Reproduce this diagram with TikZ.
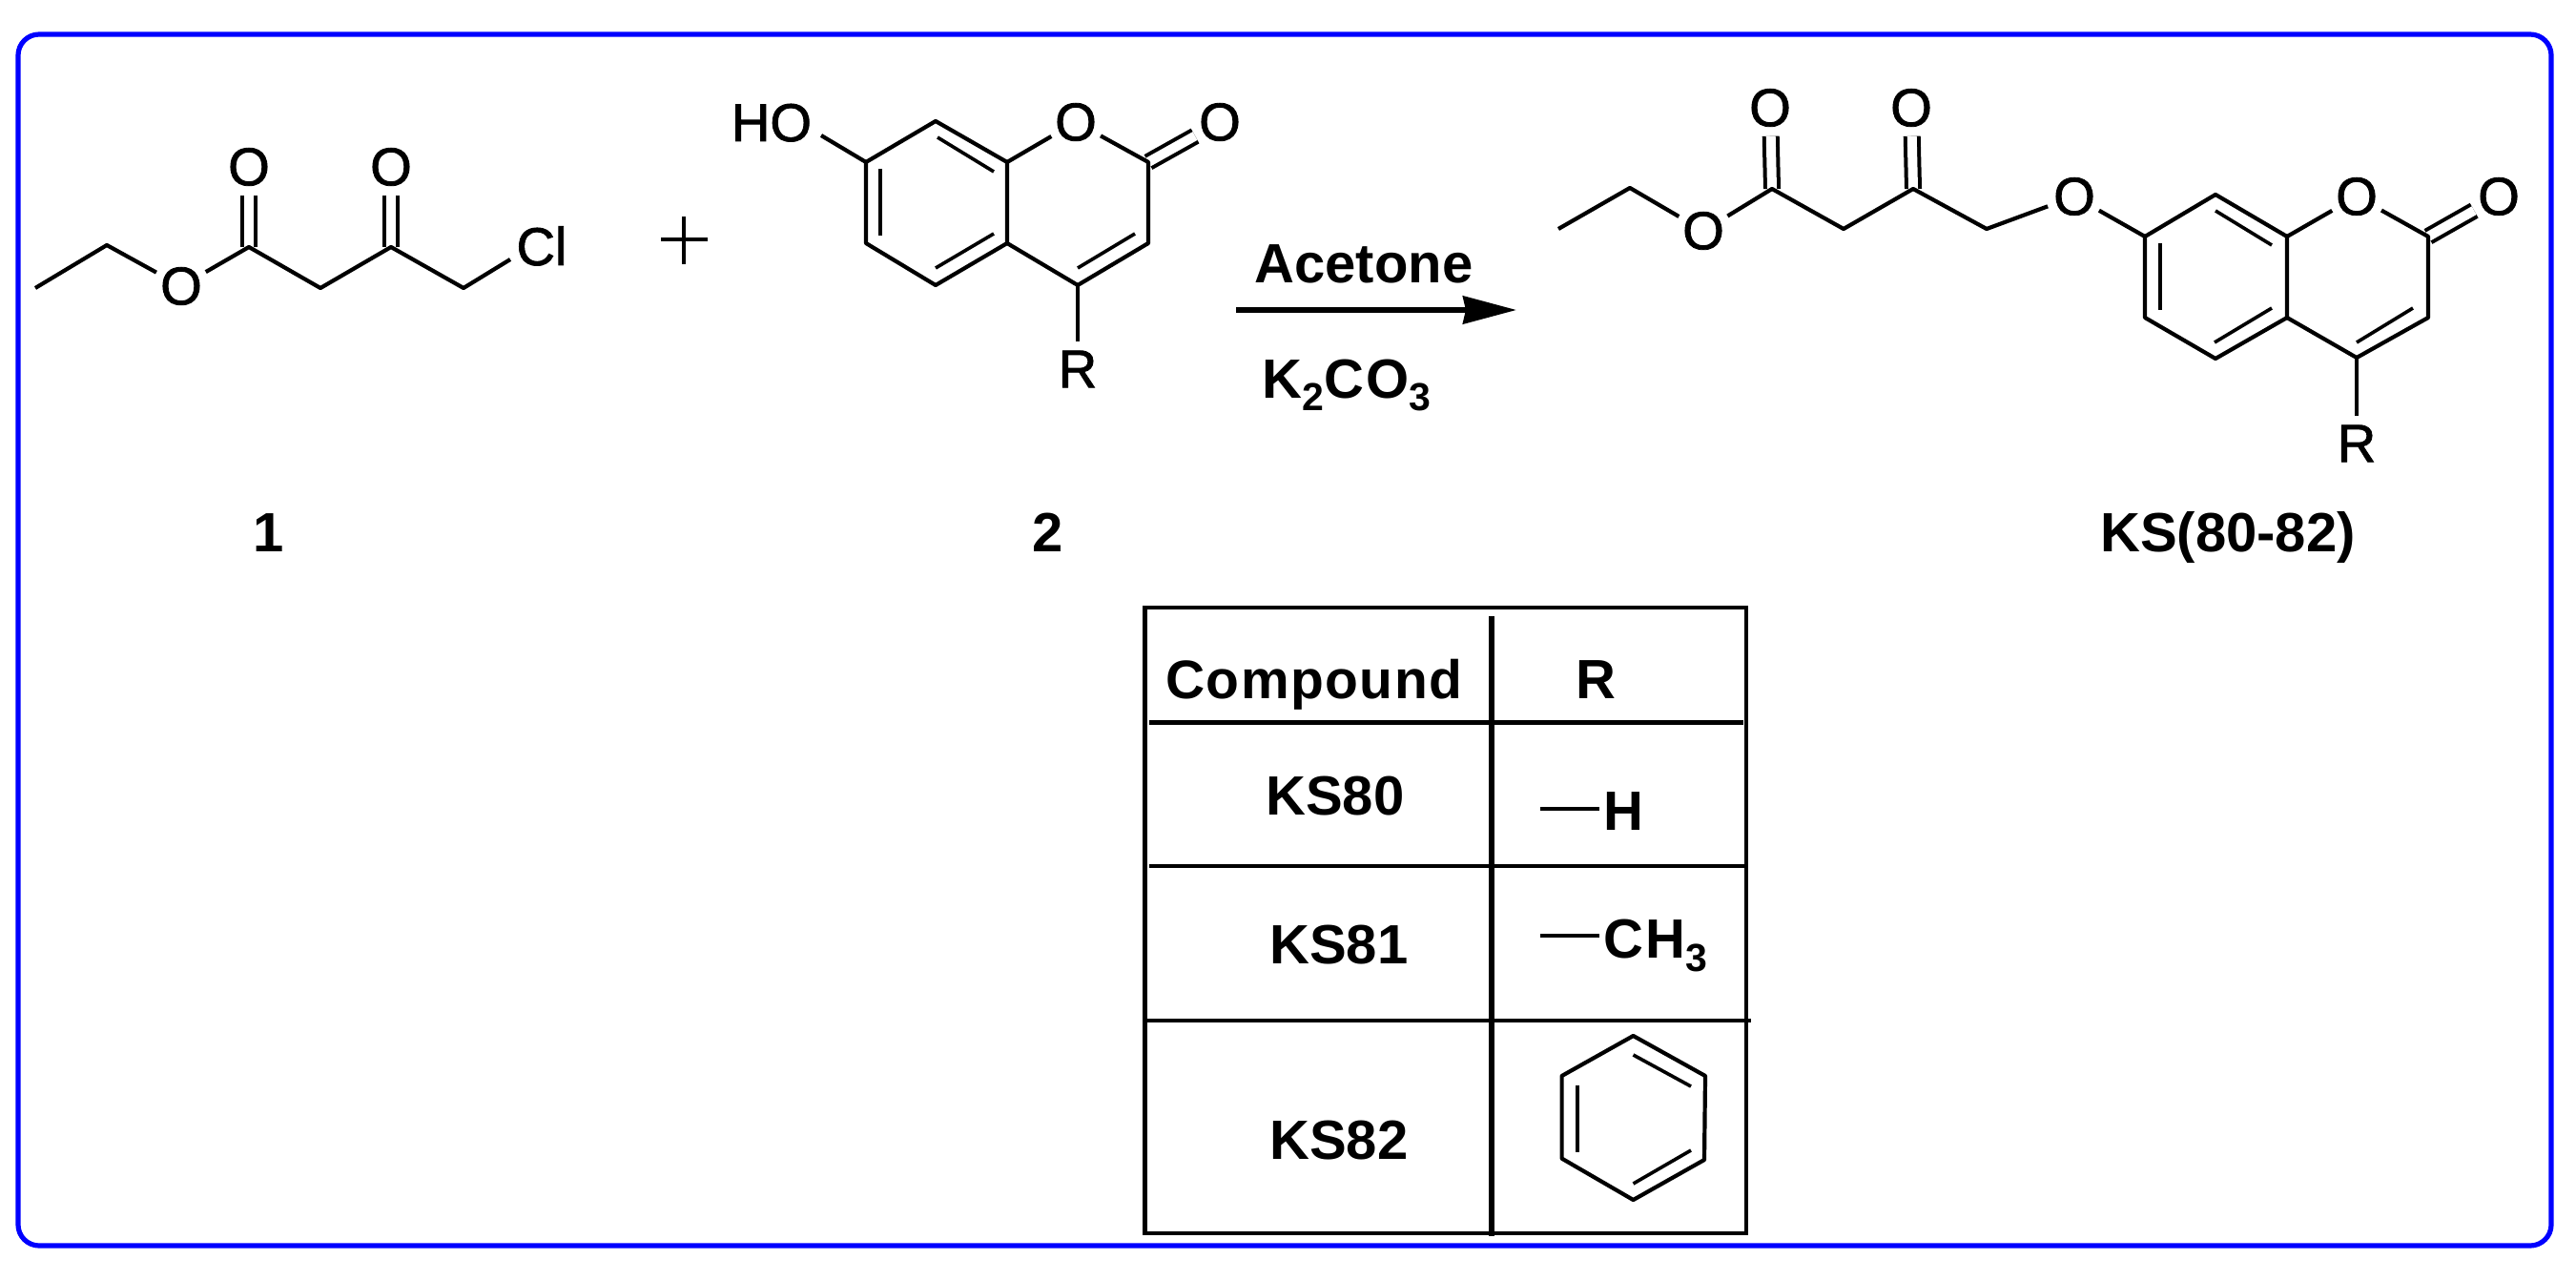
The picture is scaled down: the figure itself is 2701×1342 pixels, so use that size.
\documentclass[tikz,border=0pt]{standalone}
\usepackage{fontspec}
\setmainfont{Liberation Sans}
\newfontfamily\spacedbold[LetterSpace=2.5]{Liberation Sans Bold}
\newfontfamily\widebold[LetterSpace=4]{Liberation Sans Bold}
\newfontfamily\atomfont[FakeBold=1.5]{Liberation Sans}
\usetikzlibrary{arrows.meta}
\newcommand{\szAtom}{\fontsize{28}{30}\selectfont\atomfont}
\newcommand{\szBold}{\fontsize{29}{32}\selectfont\bfseries}
\newcommand{\szSub}{\fontsize{20.5}{22}\selectfont\bfseries}
\tikzset{
  bond/.style={line width=2.1pt,line join=round,line cap=butt},
  innerbond/.style={line width=1.8pt,line cap=butt},
  dbl/.style={line width=2pt,double,double distance=5pt},
  atom/.style={circle,minimum size=29pt,inner sep=0pt,font=\szAtom},
  rule/.style={line width=2.2pt,line cap=butt},
  lbl/.style={anchor=base,inner sep=0pt,font=\szBold},
  lblw/.style={anchor=base west,inner sep=0pt,font=\szBold},
}
\begin{document}
\begin{tikzpicture}[x=0.5pt,y=-0.5pt]
\useasboundingbox (0,0) rectangle (2701,1342);
% frame
\draw[line width=2.6pt,color=blue,rounded corners=11pt] (19,36) rectangle (2675,1306);

% ---------- compound 1
\coordinate (a1) at (37,302);
\coordinate (a2) at (112,257);
\node[atom] (a3) at (190,300) {O};
\coordinate (a4) at (261,259);
\node[atom] (a5) at (261,175) {O};
\coordinate (a6) at (336,302);
\coordinate (a7) at (410,259);
\node[atom] (a8) at (410,175) {O};
\coordinate (a9) at (486,302);
\coordinate (a10) at (535,272);
\node[anchor=base,inner sep=0pt,font=\szAtom] (a11) at (568,278) {Cl};
\draw[dbl] (a4) -- (a5);
\draw[dbl] (a7) -- (a8);
\draw[bond] (a1) -- (a2) -- (a3);
\draw[bond] (a3) -- (a4) -- (a6) -- (a7) -- (a9) -- (a10);

% plus
\coordinate (pw) at (693,251);
\coordinate (pe) at (742,251);
\coordinate (pn) at (717,227);
\coordinate (ps) at (717,277);
\draw[bond] (pw) -- (pe);
\draw[bond] (pn) -- (ps);

% ---------- compound 2
\coordinate (b7) at (908,170);
\coordinate (b8) at (981,127);
\coordinate (b8a) at (1056,170);
\node[atom] (bo1) at (1128,128) {O};
\coordinate (b2) at (1204,170);
\node[atom] (bo2) at (1279,128) {O};
\coordinate (b3) at (1204,255);
\coordinate (b4) at (1130,299);
\coordinate (b4a) at (1056,255);
\coordinate (b5) at (981,299);
\coordinate (b6) at (908,255);
\node[atom] (br) at (1130,387) {R};
\node[anchor=base,inner sep=0pt,font=\szAtom] (bho) at (809,148) {HO};
\coordinate (bhoe) at (861,142);
\draw[dbl] (b2) -- (bo2);
\draw[bond] (b7) -- (b8) -- (b8a) -- (b4a) -- (b5) -- (b6) -- cycle;
\draw[bond] (b8a) -- (bo1) -- (b2) -- (b3) -- (b4) -- (b4a);
\draw[bond] (b4) -- (br);
\draw[bond] (b7) -- (bhoe);
\draw[innerbond] (923,177) -- (923,247);
\draw[innerbond] (983,144) -- (1042,180);
\draw[innerbond] (1042,245) -- (981,281);
\draw[innerbond] (1190,245) -- (1130,281);

% ---------- arrow
\node[lbl] (acetone) at (1430,297) {Acetone};
\node[lbl] (k2co3) at (1412,417) {K\raisebox{-6.5pt}{\szSub 2}{\widebold CO}\raisebox{-6.5pt}{\szSub 3}};
\coordinate (arS) at (1296,325);
\coordinate (arE) at (1590,325);
\draw[line width=2.7pt,-{Stealth[length=28pt,width=14.5pt,inset=1.5pt]}] (arS) -- (arE);

% ---------- product
\coordinate (p1) at (1634,240);
\coordinate (p2) at (1709,197);
\node[atom] (p3) at (1786,242) {O};
\coordinate (p4) at (1858,198);
\node[atom] (p5) at (1856,113) {O};
\coordinate (p6) at (1933,240);
\coordinate (p7) at (2006,198);
\node[atom] (p8) at (2004,113) {O};
\coordinate (p9) at (2083,240);
\node[atom] (p10) at (2175,206) {O};
\coordinate (c7) at (2249,248);
\coordinate (c8) at (2323,204);
\coordinate (c8a) at (2398,248);
\node[atom] (co1) at (2471,206) {O};
\coordinate (c2) at (2546,248);
\node[atom] (co2) at (2620,206) {O};
\coordinate (c3) at (2546,333);
\coordinate (c4) at (2471,375);
\coordinate (c4a) at (2398,333);
\coordinate (c5) at (2323,376);
\coordinate (c6) at (2249,333);
\node[atom] (cr) at (2471,465) {R};
\draw[dbl] (p4) -- (p5);
\draw[dbl] (p7) -- (p8);
\draw[dbl] (c2) -- (co2);
\draw[bond] (p1) -- (p2) -- (p3);
\draw[bond] (p3) -- (p4) -- (p6) -- (p7) -- (p9) -- (p10);
\draw[bond] (p10) -- (c7);
\draw[bond] (c7) -- (c8) -- (c8a) -- (c4a) -- (c5) -- (c6) -- cycle;
\draw[bond] (c8a) -- (co1) -- (c2) -- (c3) -- (c4) -- (c4a);
\draw[bond] (c4) -- (cr);
\draw[innerbond] (2265,255) -- (2265,325);
\draw[innerbond] (2323,221) -- (2382,257);
\draw[innerbond] (2382,323) -- (2322,359);
\draw[innerbond] (2530,323) -- (2471,359);

% labels
\node[lbl] (l1) at (282,578) {1};
\node[lbl] (l2) at (1099,578) {2};
\node[lbl] (l3) at (2336,578) {KS(80-82)};

% ---------- table
\coordinate (tnw) at (1200.5,637);
\coordinate (tse) at (1831,1293);
\draw[rule] (tnw) rectangle (tse);
\coordinate (vt) at (1564,646);
\coordinate (vb) at (1564,1296);
\draw[line width=2.6pt] (vt) -- (vb);
\coordinate (h1w) at (1205,757.5);
\coordinate (h1e) at (1828,757.5);
\coordinate (h2w) at (1205,908);
\coordinate (h2e) at (1830,908);
\coordinate (h3w) at (1200.5,1070);
\coordinate (h3e) at (1836,1070);
\draw[rule] (h1w) -- (h1e);
\draw[rule] (h2w) -- (h2e);
\draw[rule] (h3w) -- (h3e);

\node[anchor=base west,inner sep=0pt,font=\fontsize{28.5}{32}\selectfont\spacedbold] (tc) at (1222,732) {Compound};
\node[lblw] (tr) at (1652,732) {R};
\node[lblw] (t80) at (1327,854) {KS80};
\node[lblw] (t81) at (1331,1010) {KS81};
\node[lblw] (t82) at (1331,1215) {KS82};
\node[lblw] (th) at (1681,870.5) {H};
\node[lblw] (tch) at (1681,1004.5) {{\widebold CH}\raisebox{-7pt}{\szSub 3}};
\coordinate (bh) at (1615,848);
\coordinate (bc) at (1615,981);
\coordinate (bhe) at (1677,848);
\coordinate (bce) at (1677,981);
\draw[innerbond] (bh) -- (bhe);
\draw[innerbond] (bc) -- (bce);

% benzene
\coordinate (z1) at (1712.5,1086);
\coordinate (z2) at (1788,1128);
\coordinate (z3) at (1787,1216);
\coordinate (z4) at (1712.5,1258);
\coordinate (z5) at (1637.6,1214.6);
\coordinate (z6) at (1637.6,1128);
\draw[bond] (z1) -- (z2) -- (z3) -- (z4) -- (z5) -- (z6) -- cycle;
\draw[innerbond] (1653.7,1137.5) -- (1653.7,1207.6);
\draw[innerbond] (1712.5,1106) -- (1773,1139);
\draw[innerbond] (1712.5,1241) -- (1773,1206);
\end{tikzpicture}
\end{document}
